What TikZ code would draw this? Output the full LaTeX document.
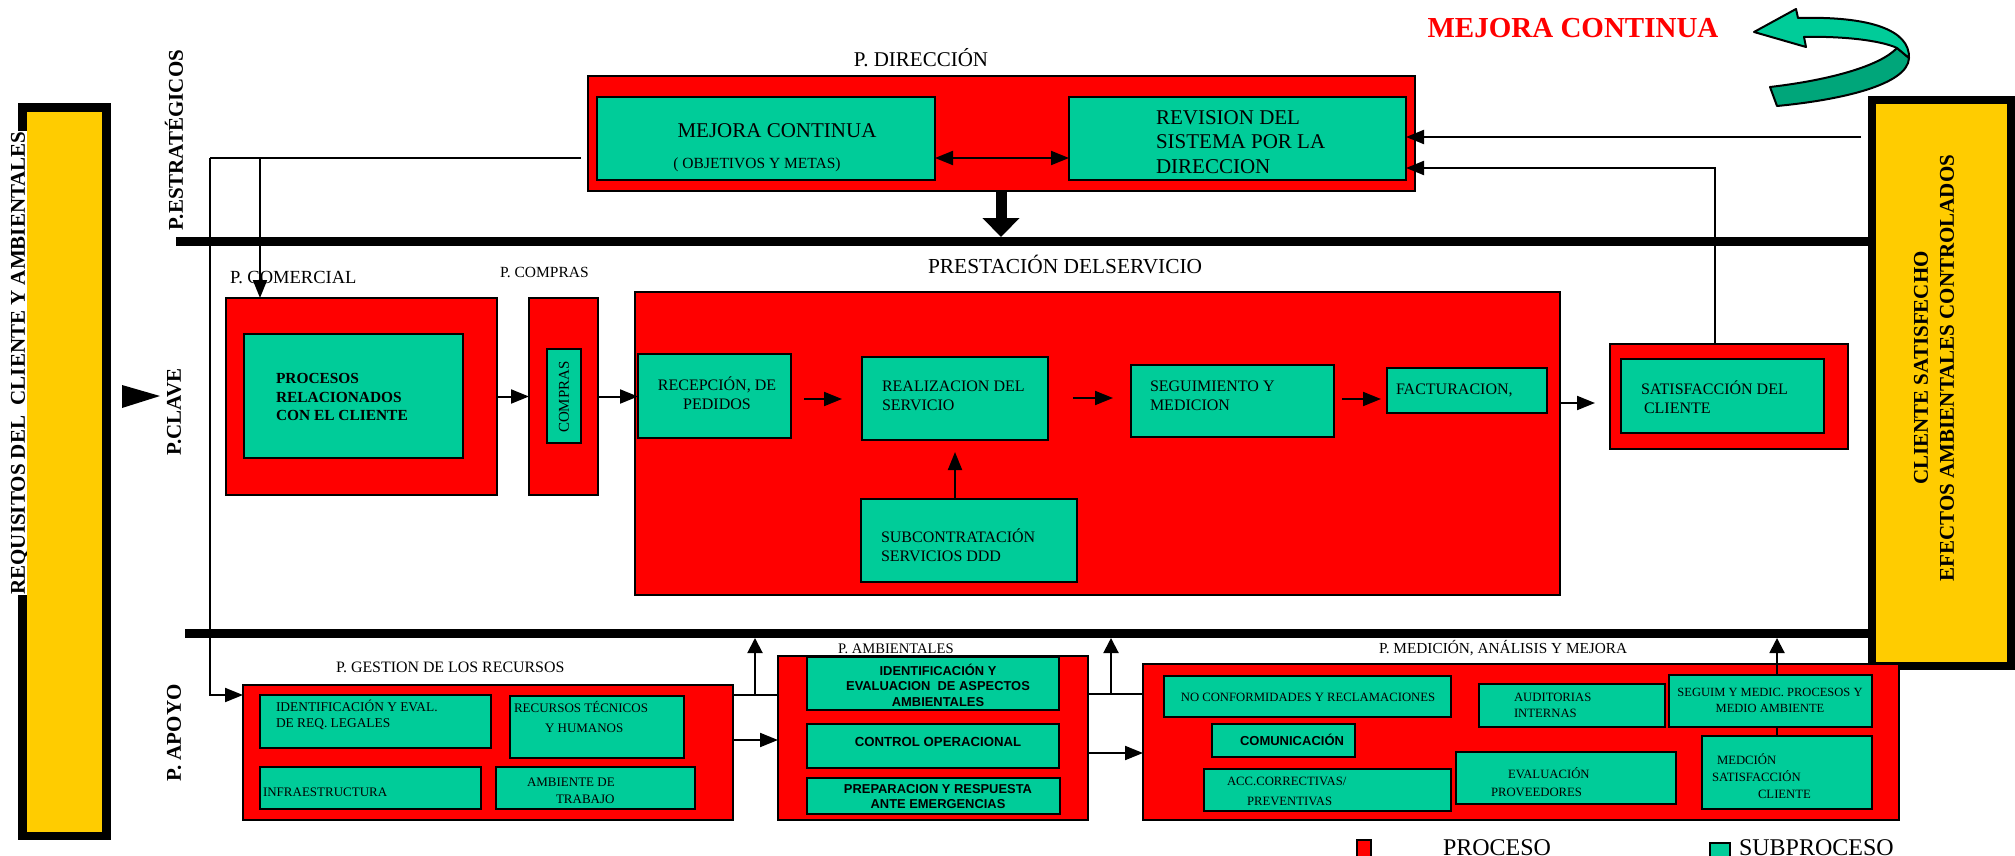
\documentclass[tikz,border=0pt]{standalone}
\usepackage{fontspec}
\setmainfont{Liberation Serif}
\newfontfamily\arialf{Liberation Sans}
\usetikzlibrary{arrows.meta}
\definecolor{pred}{RGB}{255,0,0}
\definecolor{pgreen}{RGB}{0,204,153}
\definecolor{pdark}{RGB}{0,166,122}
\definecolor{pyellow}{RGB}{255,204,0}
\newcommand\mybox[6]{\node[#1, minimum width={(#5-#3)*1pt}, minimum height={(#6-#4)*1pt}] (#2) at ({(#3+#5)/2},{(#4+#6)/2}) {};}
\newcommand\fs[2]{\fontsize{#1}{#2}\selectfont}
\begin{document}
\begin{tikzpicture}[x=1pt,y=-1pt,
 redbox/.style={draw=black,fill=pred,line width=2pt,inner sep=0pt,outer sep=0pt},
 grnbox/.style={draw=black,fill=pgreen,line width=2.5pt,inner sep=0pt,outer sep=0pt},
 plain/.style={inner sep=0pt,outer sep=0pt},
 ln/.style={line width=2pt},
 arr/.style={line width=2pt,-{Triangle[length=18pt,width=14pt]}},
 arrs/.style={line width=2pt,-{Triangle[length=15pt,width=15pt]}},
 sepline/.style={line width=9pt},
 lbl/.style={inner sep=0pt,outer sep=0pt},
]
\useasboundingbox (0,0) rectangle (2015,856);

% ---- left bar
\mybox{plain,fill=black}{lbo}{18}{103}{111}{840}
\node[lbl,fill=white,rotate=90,font=\bfseries\fs{21}{25}] (req) at (19.5,363) {REQUISITOS DEL\ \ CLIENTE Y AMBIENTALES};
\mybox{plain,fill=pyellow}{lbi}{27}{112}{102}{832}

% ---- right bar
\mybox{plain,fill=black}{rbo}{1868}{96}{2015}{670}
\mybox{plain,fill=pyellow}{rbi}{1876}{104}{2007}{662}
\node[lbl,rotate=90,font=\bfseries\fs{21}{26},align=center] (rbt) at (1934,368) {CLIENTE SATISFECHO\\EFECTOS AMBIENTALES CONTROLADOS};

% ---- side labels
\node[lbl,rotate=90,font=\bfseries\fs{21}{25}] (pest) at (174,140) {P.ESTRATÉGICOS};
\node[lbl,rotate=90,font=\bfseries\fs{21}{25}] (pcla) at (174,412) {P.CLAVE};
\node[lbl,rotate=90,font=\bfseries\fs{21}{25}] (papo) at (174,733) {P. APOYO};
\fill (122,385) -- (122,408) -- (160,396) -- cycle;

% ---- separator lines
\coordinate (h1a) at (176,241.5); \coordinate (h1b) at (1868,241.5);
\coordinate (h2a) at (185,633.5); \coordinate (h2b) at (1868,633.5);
\draw[sepline] (h1a) -- (h1b);
\draw[sepline] (h2a) -- (h2b);

% ---- mejora continua title and curved arrow
\node[lbl,anchor=base,font=\bfseries\fs{29}{34},text=pred] (mct) at (1573,38) {MEJORA CONTINUA};
\filldraw[fill=pdark,draw=black,line width=2pt,line join=round] (1897,48) -- (1909,58) .. controls (1908,85) and (1840,100) .. (1777,106) -- (1770,87) .. controls (1830,80) and (1880,66) .. (1897,48) -- cycle;
\filldraw[fill=pgreen,draw=black,line width=2pt,line join=round] (1754,32) -- (1796,9) -- (1798,18) .. controls (1870,16) and (1910,30) .. (1909,58) -- (1897,48) .. controls (1880,40) and (1840,36) .. (1804,37) -- (1806,47) -- cycle;

% ---- direccion
\node[lbl,anchor=base,font=\fs{21}{25}] (pdir) at (921,67) {P. DIRECCIÓN};
\mybox{redbox}{dir}{588}{76}{1415}{191}
\mybox{grnbox}{mej}{597}{97}{935}{180}
\node[lbl,anchor=base,font=\fs{21}{25}] (mejt) at (777,138) {MEJORA CONTINUA};
\node[lbl,anchor=base,font=\fs{15.5}{18}] (objt) at (757,168) {( OBJETIVOS Y METAS)};
\mybox{grnbox}{rev}{1069}{97}{1406}{180}
\node[lbl,anchor=west,align=left,font=\fs{21}{24.5}] (revt) at (1156,142) {REVISION DEL\\SISTEMA POR LA\\DIRECCION};
\draw[line width=2pt,{Triangle[length=18pt,width=14pt]}-{Triangle[length=18pt,width=14pt]}] (mej.east |- 0,158) -- (rev.west |- 0,158);
\coordinate (tdt) at (1001,237);
\draw[line width=11pt,-{Triangle[length=19pt,width=36pt]}] (dir.south -| tdt) -- (tdt);

% ---- clave labels
\node[lbl,anchor=base west,font=\fs{18.5}{22}] (pcom) at (230,283) {P. COMERCIAL};
\node[lbl,anchor=base west,font=\fs{15.5}{18}] (pcmp) at (500,277) {P. COMPRAS};
\node[lbl,anchor=base west,font=\fs{21.4}{25}] (ppre) at (928,273) {PRESTACIÓN DELSERVICIO};

% ---- comercial, compras
\mybox{redbox}{com}{226}{298}{497}{495}
\mybox{grnbox}{comg}{244}{334}{463}{458}
\node[lbl,anchor=west,align=left,font=\bfseries\fs{15.4}{18.6}] (comt) at (276,397) {PROCESOS\\RELACIONADOS\\CON EL CLIENTE};
\mybox{redbox}{cmp}{529}{298}{598}{495}
\mybox{grnbox}{cmpg}{547}{349}{581}{443}
\node[lbl,rotate=90,font=\fs{15}{18}] (cmpt) at (564,397) {COMPRAS};

% ---- prestacion
\mybox{redbox}{pre}{635}{292}{1560}{595}
\mybox{grnbox}{rec}{638}{354}{791}{438}
\node[lbl,align=center,font=\fs{16}{19}] (rect) at (717,393) {RECEPCIÓN, DE\\PEDIDOS};
\mybox{grnbox}{rea}{862}{357}{1048}{440}
\node[lbl,anchor=west,align=left,font=\fs{16}{19}] (reat) at (882,396) {REALIZACION DEL\\SERVICIO};
\mybox{grnbox}{seg}{1131}{365}{1334}{437}
\node[lbl,anchor=west,align=left,font=\fs{16}{19}] (segt) at (1150,396) {SEGUIMIENTO Y\\MEDICION};
\mybox{grnbox}{fac}{1387}{368}{1547}{413}
\node[lbl,anchor=west,font=\fs{16}{19}] (fact) at (1396,390) {FACTURACION,};
\mybox{grnbox}{sub}{861}{499}{1077}{582}
\node[lbl,anchor=west,align=left,font=\fs{16}{19}] (subt) at (881,545) {SUBCONTRATACIÓN\\SERVICIOS DDD};

% ---- satisfaccion
\mybox{redbox}{sat}{1610}{344}{1848}{449}
\mybox{grnbox}{satg}{1621}{359}{1824}{433}
\node[lbl,anchor=west,align=left,font=\fs{16}{19}] (satt) at (1641,397) {SATISFACCIÓN DEL\\\hspace*{3pt}CLIENTE};

% ---- apoyo: gestion
\node[lbl,anchor=base west,font=\fs{15.9}{19}] (pges) at (336,672) {P. GESTION DE LOS RECURSOS};
\mybox{redbox}{gest}{243}{685}{733}{820}
\mybox{grnbox}{idl}{260}{695}{491}{748}
\node[lbl,anchor=west,align=left,font=\fs{13.4}{16}] (idlt) at (276,715) {IDENTIFICACIÓN Y EVAL.\\DE REQ. LEGALES};
\mybox{grnbox}{rth}{510}{696}{684}{758}
\node[lbl,anchor=west,align=left,font=\fs{13}{20}] (rtht) at (514,717) {RECURSOS TÉCNICOS\\\hspace*{31pt}Y HUMANOS};
\mybox{grnbox}{inf}{260}{767}{481}{809}
\node[lbl,anchor=west,font=\fs{13}{16}] (inft) at (263,792) {INFRAESTRUCTURA};
\mybox{grnbox}{amt}{496}{767}{695}{809}
\node[lbl,anchor=west,align=left,font=\fs{13}{17}] (amtt) at (527,791) {AMBIENTE DE\\\hspace*{29pt}TRABAJO};

% ---- apoyo: ambientales
\node[lbl,anchor=base west,font=\fs{14.6}{18}] (pamb) at (838,653) {P. AMBIENTALES};
\mybox{redbox}{amb}{778}{656}{1088}{820}
\mybox{grnbox}{iaa}{807}{657}{1059}{710}
\node[lbl,align=center,font=\arialf\bfseries\fs{12.9}{15.5}] (iaat) at (938,685) {IDENTIFICACIÓN Y\\EVALUACION\ \ DE ASPECTOS\\AMBIENTALES};
\mybox{grnbox}{cop}{807}{724}{1059}{768}
\node[lbl,font=\arialf\bfseries\fs{13.2}{16}] (copt) at (938,742) {CONTROL OPERACIONAL};
\mybox{grnbox}{pra}{807}{778}{1060}{814}
\node[lbl,align=center,font=\arialf\bfseries\fs{12.9}{15}] (prat) at (938,797) {PREPARACION Y RESPUESTA\\ANTE EMERGENCIAS};

% ---- apoyo: medicion
\node[lbl,anchor=base west,font=\fs{15.3}{18}] (pmed) at (1379,653) {P. MEDICIÓN, ANÁLISIS Y MEJORA};
\mybox{redbox}{med}{1143}{664}{1899}{820}
\mybox{grnbox}{ncf}{1164}{676}{1451}{717}
\node[lbl,font=\fs{12.7}{15}] (ncft) at (1308,697) {NO CONFORMIDADES Y RECLAMACIONES};
\mybox{grnbox}{aud}{1479}{684}{1665}{727}
\node[lbl,anchor=west,align=left,font=\fs{12.7}{16}] (audt) at (1514,705) {AUDITORIAS\\INTERNAS};
\mybox{grnbox}{sgm}{1669}{675}{1872}{727}
\node[lbl,align=center,font=\fs{12.5}{16}] (sgmt) at (1770,700) {SEGUIM Y MEDIC. PROCESOS Y\\MEDIO AMBIENTE};
\mybox{grnbox}{cmu}{1212}{724}{1355}{757}
\node[lbl,font=\arialf\bfseries\fs{13}{16}] (cmut) at (1292,740) {COMUNICACIÓN};
\mybox{grnbox}{acc}{1204}{769}{1451}{811}
\node[lbl,anchor=west,align=left,font=\fs{12.7}{20}] (acct) at (1227,791) {ACC.CORRECTIVAS/\\\hspace*{20pt}PREVENTIVAS};
\mybox{grnbox}{evp}{1456}{752}{1676}{804}
\node[lbl,anchor=west,align=left,font=\fs{12.7}{18}] (evpt) at (1491,782) {\hspace*{17pt}EVALUACIÓN\\PROVEEDORES};
\mybox{grnbox}{mds}{1702}{736}{1872}{809}
\node[lbl,anchor=west,align=left,font=\fs{12.7}{17}] (mdst) at (1712,776) {\hspace*{5pt}MEDCIÓN\\SATISFACCIÓN\\\hspace*{46pt}CLIENTE};

% ---- legend
\mybox{draw=black,fill=pred,line width=2pt,inner sep=0pt}{legr}{1357}{840}{1371}{862}
\node[lbl,anchor=base west,font=\fs{24}{28}] (legrt) at (1443,855) {PROCESO};
\mybox{draw=black,fill=pgreen,line width=2pt,inner sep=0pt}{legg}{1710}{843}{1730}{862}
\node[lbl,anchor=base west,font=\fs{24}{28}] (leggt) at (1739,855) {SUBPROCESO};

% ---- connectors top-left
\coordinate (tl0) at (581,158);
\coordinate (tl1) at (210,158);
\coordinate (tl2) at (210,695);
\coordinate (tlc) at (260,158);
\draw[ln] (tl0) -- (tl1);
\draw[arr] (tl1) -- (tl2) -- (gest.west |- tl2);
\draw[arr] (tlc) -- (com.north -| tlc);

% ---- connectors right
\coordinate (rc1) at (1861,137);
\draw[arr] (rc1) -- (rev.east |- rc1);
\coordinate (rc2) at (1715,168);
\draw[arr] (sat.north -| rc2) -- (rc2) -- (rev.east |- rc2);

% ---- process flow
\draw[arr] (com.east) -- (cmp.west);
\draw[arr] (cmp.east) -- (cmp.east -| rec.west);
\draw[arr,shorten <=13pt,shorten >=20pt] (rec.east |- 0,399) -- (rea.west |- 0,399);
\draw[arr,shorten <=25pt,shorten >=18pt] (rea.east |- 0,398) -- (seg.west |- 0,398);
\draw[arr,shorten <=8pt,shorten >=6pt] (seg.east |- 0,399) -- (fac.west |- 0,399);
\draw[arr,shorten >=15pt] (pre.east |- 0,403) -- (sat.west |- 0,403);
\draw[arr,shorten >=12pt] (rea.south |- sub.north) -- (rea.south);

% ---- lower connectors
\coordinate (u1) at (755,695); \coordinate (u1t) at (755,638);
\draw[ln] (gest.east |- u1) -- (amb.west |- u1);
\draw[arrs] (u1) -- (u1t);
\draw[arr] (gest.east |- 0,740) -- (amb.west |- 0,740);
\coordinate (u2) at (1111,694); \coordinate (u2t) at (1111,638);
\draw[ln] (amb.east |- u2) -- (med.west |- u2);
\draw[arrs] (u2) -- (u2t);
\draw[arr] (amb.east |- 0,753) -- (med.west |- 0,753);
\coordinate (u3t) at (1777,638);
\draw[arrs] (sgm.north -| u3t) -- (u3t);
\draw[ln] (sgm.south -| u3t) -- (mds.north -| u3t);
\end{tikzpicture}
\end{document}
